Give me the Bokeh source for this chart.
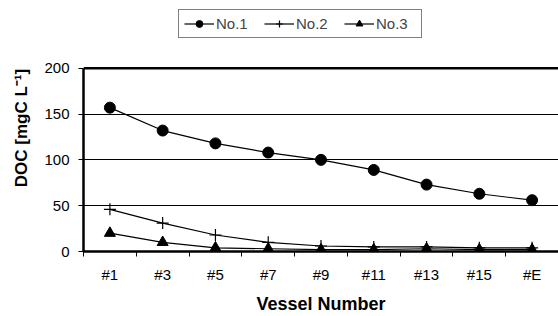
from bokeh.plotting import figure
from bokeh.models import FixedTicker, Span, Legend, LegendItem
from bokeh.embed import file_html
from bokeh.resources import INLINE

categories = ["#1", "#3", "#5", "#7", "#9", "#11", "#13", "#15", "#E"]
no1 = [157, 132, 118, 108, 100, 89, 73, 63, 56]
no2 = [46, 31, 18, 10, 6, 5, 5, 4, 4]
no3 = [20, 10, 4, 3, 2, 2, 3, 2, 2]
y_ticks = [0, 50, 100, 150, 200]
y_max = 200

xs = list(range(len(categories)))
FONT = "Liberation Sans"

# layout (pixels)
W, H = 558, 316
left, top, bottom = 83, 4, 64
frame_h = H - top - bottom          # 248
axis_px = 184                       # pixels spanned by 0..200
y_end = y_max * frame_h / axis_px   # extend range so the legend sits inside the frame

p = figure(width=W, height=H, output_backend="svg", toolbar_location=None,
           x_range=(-0.5, len(categories) - 0.5), y_range=(0, y_end),
           min_border_left=left, min_border_right=0, min_border_top=top, min_border_bottom=bottom)
p.outline_line_color = None
p.background_fill_color = "white"
p.border_fill_color = "white"

# x axis
p.xaxis.ticker = FixedTicker(ticks=xs, minor_ticks=[i - 0.5 for i in range(len(categories) + 1)])
p.xaxis.major_label_overrides = {i: c for i, c in enumerate(categories)}
p.xaxis.major_tick_out = 0
p.xaxis.major_tick_in = 0
p.xaxis.minor_tick_out = 5
p.xaxis.minor_tick_in = 0
p.xaxis.minor_tick_line_color = "black"
p.xaxis.major_label_standoff = 9
p.xaxis.axis_line_width = 2.5
p.xaxis.axis_line_color = "black"
p.xaxis.axis_label = "Vessel Number"
p.xaxis.axis_label_standoff = 8

# y axis
p.yaxis.ticker = FixedTicker(ticks=y_ticks)
p.yaxis.bounds = (0, y_max)
p.yaxis.major_tick_out = 5
p.yaxis.major_tick_in = 0
p.yaxis.minor_tick_out = 0
p.yaxis.minor_tick_in = 0
p.yaxis.major_label_standoff = 9
p.yaxis.axis_line_width = 2.5
p.yaxis.axis_line_color = "black"
p.yaxis.axis_label = "DOC [mgC L\u207b\u00b9]"
p.yaxis.axis_label_standoff = 10

for ax in [p.xaxis, p.yaxis]:
    ax.major_label_text_font = FONT
    ax.major_label_text_font_size = "15px"
    ax.major_label_text_color = "black"
    ax.axis_label_text_font = FONT
    ax.axis_label_text_font_size = "17px"
    ax.axis_label_text_font_style = "bold"
    ax.axis_label_text_color = "black"
    ax.major_tick_line_color = "black"
p.xaxis.axis_label_text_font_size = "18px"

p.xgrid.grid_line_color = None
p.ygrid.grid_line_color = "black"
p.ygrid.grid_line_width = 1
p.ygrid.ticker = FixedTicker(ticks=[50, 100, 150])

p.add_layout(Span(location=y_max, dimension="width", line_color="black", line_width=2.5))

l1 = p.line(xs, no1, line_color="black", line_width=1.2)
m1 = p.scatter(xs, no1, marker="circle", size=11, fill_color="black", line_color="black")
l2 = p.line(xs, no2, line_color="black", line_width=1.2)
m2 = p.scatter(xs, no2, marker="cross", size=12, line_color="black", line_width=1.2)
l3 = p.line(xs, no3, line_color="black", line_width=1.2)
m3 = p.scatter(xs, no3, marker="triangle", size=11, fill_color="black", line_color="black")

legend = Legend(items=[LegendItem(label="No.1", renderers=[l1, m1]),
                       LegendItem(label="No.2", renderers=[l2, m2]),
                       LegendItem(label="No.3", renderers=[l3, m3])],
                orientation="horizontal", location=(95, 213),
                label_text_font=FONT, label_text_font_size="15px",
                label_standoff=2, label_width=40, glyph_width=30, glyph_height=17,
                spacing=8, padding=5, margin=0,
                border_line_color="black", border_line_width=1,
                background_fill_color="white")
p.add_layout(legend, "center")

open("out.html", "w").write(file_html(p, INLINE))
